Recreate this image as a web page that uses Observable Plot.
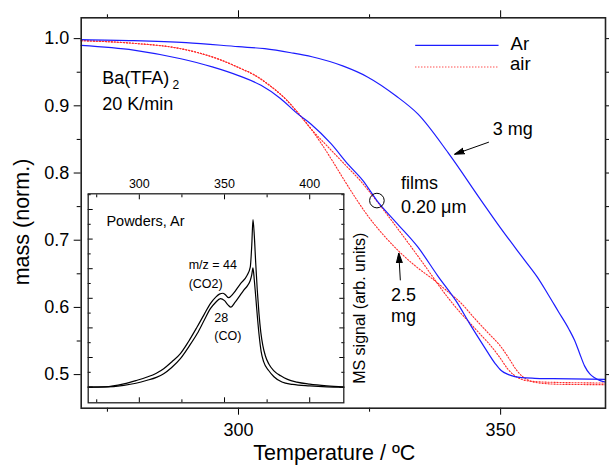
<!DOCTYPE html>
<html><head><meta charset="utf-8">
<script src="https://cdn.jsdelivr.net/npm/d3@7"></script>
<script src="https://cdn.jsdelivr.net/npm/@observablehq/plot@0.6"></script>
<style>
body{margin:0;background:#fff;}
#wrap{position:relative;width:609px;height:466px;overflow:hidden;background:#fff;}
</style></head><body><div id="wrap"></div>
<script>
// ---- Main TGA curves (temperature °C, normalized mass) ----
const tArBulk = [270, 280, 290, 300, 305, 310, 314, 320, 324.6, 330, 334.2, 340, 346.3, 350, 354.6, 357, 359, 361, 363, 364.1, 365, 366, 367, 368, 369, 370];
const mArBulk = [0.9985, 0.997, 0.994, 0.988, 0.985, 0.979, 0.973, 0.959, 0.943, 0.915, 0.888, 0.830, 0.759, 0.718, 0.670, 0.645, 0.620, 0.594, 0.568, 0.551, 0.533, 0.513, 0.501, 0.495, 0.491, 0.489];

const tArFilm = [270, 280, 289, 295, 300, 304.3, 308, 311.3, 313.8, 317.6, 321, 323.7, 326.4, 330, 334.2, 338, 341.8, 344, 346.9, 349, 350.1, 351.5, 352.7, 354, 356.5, 360, 370];
const mArFilm = [0.990, 0.983, 0.970, 0.958, 0.945, 0.9305, 0.911, 0.888, 0.873, 0.844, 0.812, 0.789, 0.759, 0.727, 0.690, 0.647, 0.606, 0.577, 0.541, 0.516, 0.506, 0.500, 0.497, 0.4955, 0.4945, 0.494, 0.493];

const tAirFilm = [270, 280, 289, 296.7, 300, 303, 306, 309, 311.3, 313.8, 316.7, 320, 323.3, 326.4, 330, 335, 340, 342, 344, 346, 348, 349.8, 351.4, 352.6, 354, 356, 360, 370];
const mAirFilm = [0.997, 0.993, 0.985, 0.968, 0.957, 0.946, 0.930, 0.910, 0.890, 0.866, 0.842, 0.815, 0.788, 0.758, 0.721, 0.668, 0.614, 0.595, 0.578, 0.561, 0.544, 0.526, 0.508, 0.499, 0.493, 0.490, 0.4885, 0.4875];

const tAirBulk = [270, 280, 289, 296.7, 300, 303, 306, 309, 311.3, 313.8, 315.7, 318, 320.2, 322.4, 324.6, 327.5, 330.4, 334, 337.4, 340, 342.5, 345, 347.5, 350.1, 351.6, 353, 354.2, 355.5, 358, 362, 370];
const mAirBulk = [0.997, 0.993, 0.985, 0.968, 0.957, 0.946, 0.930, 0.910, 0.890, 0.866, 0.845, 0.817, 0.789, 0.762, 0.737, 0.709, 0.685, 0.660, 0.640, 0.623, 0.606, 0.584, 0.563, 0.541, 0.524, 0.507, 0.497, 0.491, 0.487, 0.4855, 0.485];

// ---- Inset MS signals (temperature °C, arbitrary units) ----
const tCO2 = [270, 280, 290.9, 298, 304.6, 310, 314.3, 319, 324.1, 329, 333.9, 338, 341.7, 345, 347, 349.1, 350.5, 352.4, 355, 359.3, 363.2, 365.1, 366, 366.7, 367.5, 368.3, 369.2, 370.2, 371.3, 372.5, 374, 376, 379, 383, 387, 392.5, 400, 410, 420];
const vCO2 = [0, 0.01, 0.11, 0.22, 0.34, 0.47, 0.62, 0.85, 1.13, 1.55, 2.03, 2.45, 2.82, 3.05, 3.14, 3.17, 3.12, 3.02, 3.15, 3.49, 3.77, 4.05, 4.8, 5.66, 5.1, 4.2, 3.3, 2.5, 1.85, 1.4, 1.05, 0.78, 0.55, 0.38, 0.26, 0.17, 0.10, 0.04, 0];

const tCO = [270, 280, 290.9, 298, 304.6, 310, 314.3, 319, 324.1, 329, 333.9, 338, 341.7, 344.6, 347.6, 350, 352, 353.8, 356, 358.5, 361.2, 363.5, 365.1, 366, 366.7, 367.5, 368.4, 369.4, 370.4, 371.5, 373, 375.9, 379, 383.7, 390, 400, 410, 420];
const vCO = [0, 0.005, 0.06, 0.13, 0.23, 0.33, 0.45, 0.66, 0.96, 1.36, 1.80, 2.25, 2.65, 2.85, 2.99, 2.92, 2.78, 2.70, 2.85, 3.05, 3.27, 3.43, 3.60, 3.80, 4.03, 3.6, 3.0, 2.3, 1.7, 1.2, 0.85, 0.56, 0.35, 0.17, 0.09, 0.04, 0.01, 0];

// ---- Tick values ----
const xMajor = [300, 350];
const xMinor = [275, 325];
const yMajor = [0.5, 0.6, 0.7, 0.8, 0.9, 1.0];
const yMinor = [0.55, 0.65, 0.75, 0.85, 0.95];
const insetXMajor = [300, 350, 400];
const insetXMinor = [275, 325, 375];
const insetYMajor = [0, 1, 2, 3, 4, 5, 6];
const insetYMinor = [0.5, 1.5, 2.5, 3.5, 4.5, 5.5, 6.5];

// ---- Annotations (in data coordinates) ----
const notes = [
  {T: 274.0, m: 0.933, text: "Ba(TFA)", size: 18},
  {T: 274.0, m: 0.8933, text: "20 K/min", size: 18},
  {T: 348.5, m: 0.856, text: "3 mg", size: 18},
  {T: 331.0, m: 0.7757, text: "films", size: 18},
  {T: 331.0, m: 0.740, text: "0.20 μm", size: 18},
  {T: 329.1, m: 0.6095, text: "2.5", size: 18},
  {T: 329.1, m: 0.578, text: "mg", size: 18},
  {T: 351.9, m: 0.9836, text: "Ar", size: 18.5},
  {T: 351.8, m: 0.9528, text: "air", size: 18.5}
];
const subNotes = [{T: 287.4, m: 0.9246, text: "2", size: 12}];
const legendAr = [{T1: 333.7, T2: 349.6, m: 0.990}];
const legendAir = [{T1: 333.7, T2: 349.6, m: 0.9577}];
const arrows = [
  {T1: 347.76, m1: 0.846, T2: 341.19, m2: 0.8278},
  {T1: 330.87, m1: 0.6403, T2: 330.57, m2: 0.681}
];
const circleMark = [{T: 326.4, m: 0.759}];
const insetNotes = [
  {T: 280.7, v: 5.44, text: "Powders, Ar", size: 14.5},
  {T: 328.97, v: 3.98, text: "m/z = 44", size: 12.5},
  {T: 328.97, v: 3.36, text: "(CO2)", size: 12.5},
  {T: 344.0, v: 2.20, text: "28", size: 12.5},
  {T: 344.0, v: 1.60, text: "(CO)", size: 12.5}
];

// ---- Tables ----
const series = [
  {id: "Ar 3 mg", atm: "Ar", T: tArBulk, m: mArBulk},
  {id: "Ar film", atm: "Ar", T: tArFilm, m: mArFilm},
  {id: "air film", atm: "air", T: tAirFilm, m: mAirFilm},
  {id: "air 2.5 mg", atm: "air", T: tAirBulk, m: mAirBulk}
];
const rows = series.flatMap(s => s.T.map((t, i) => ({id: s.id, atm: s.atm, T: t, m: s.m[i]})));
const ms = [
  {id: "44", T: tCO2, v: vCO2},
  {id: "28", T: tCO, v: vCO}
];
const msRows = ms.flatMap(s => s.T.map((t, i) => ({id: s.id, T: t, v: s.v[i]})));

const FONT = "'Liberation Sans', Arial, Helvetica, sans-serif";
const BLUE = "#1c1cff";
const RED = "#ff2a2a";
const DASH = "1.2,1.8";

function filledArrow(color) {
  const m = d3.create("svg:marker")
    .attr("viewBox", "0 -5 10 10")
    .attr("refX", 10).attr("refY", 0)
    .attr("markerWidth", 10).attr("markerHeight", 10)
    .attr("markerUnits", "userSpaceOnUse")
    .attr("orient", "auto");
  m.append("path").attr("d", "M0,-3L10,0L0,3Z").attr("fill", color);
  return m.node();
}

const main = Plot.plot({
  width: 609, height: 466,
  marginLeft: 80.7, marginRight: 4, marginTop: 17.3, marginBottom: 58.3,
  style: {fontFamily: FONT, background: "white", color: "black"},
  x: {domain: [270, 370]},
  y: {domain: [0.45, 1.031]},
  marks: [
    Plot.axisX(xMajor, {anchor: "bottom", tickSize: 7, tickPadding: 8, fontSize: 18, label: null}),
    Plot.axisX(xMinor, {anchor: "bottom", tickSize: 4, fill: "none", label: null}),
    Plot.axisX(xMajor, {anchor: "top", tickSize: 8, fill: "none", label: null}),
    Plot.axisX(xMinor, {anchor: "top", tickSize: 4, fill: "none", label: null}),
    Plot.axisY(yMajor, {anchor: "left", tickSize: 7, tickPadding: 5, fontSize: 18, tickFormat: d3.format(".1f"), label: null}),
    Plot.axisY(yMinor, {anchor: "left", tickSize: 4, fill: "none", label: null}),
    Plot.axisY(yMajor, {anchor: "right", tickSize: 7, fill: "none", label: null}),
    Plot.axisY(yMinor, {anchor: "right", tickSize: 4, fill: "none", label: null}),
    Plot.line(rows.filter(d => d.atm === "air"), {x: "T", y: "m", z: "id", stroke: RED, strokeWidth: 1.1, strokeDasharray: DASH, curve: "monotone-x"}),
    Plot.line(rows.filter(d => d.atm === "Ar"), {x: "T", y: "m", z: "id", stroke: BLUE, strokeWidth: 1.2, curve: "monotone-x"}),
    Plot.link(legendAr, {x1: "T1", x2: "T2", y1: "m", y2: "m", stroke: BLUE, strokeWidth: 1.2}),
    Plot.link(legendAir, {x1: "T1", x2: "T2", y1: "m", y2: "m", stroke: RED, strokeWidth: 1.1, strokeDasharray: DASH}),
    Plot.link(arrows, {x1: "T1", y1: "m1", x2: "T2", y2: "m2", stroke: "black", strokeWidth: 1, markerEnd: filledArrow}),
    Plot.dot(circleMark, {x: "T", y: "m", r: 7.3, stroke: "black", fill: "none", strokeWidth: 1}),
    Plot.text(notes, {x: "T", y: "m", text: "text", fontSize: "size", textAnchor: "start", lineAnchor: "bottom", fill: "black"}),
    Plot.text(subNotes, {x: "T", y: "m", text: "text", fontSize: "size", textAnchor: "start", lineAnchor: "bottom", fill: "black"}),
    Plot.text(["Temperature / ºC"], {frameAnchor: "bottom", textAnchor: "middle", dy: 52, dx: -9, fontSize: 21.5, lineAnchor: "bottom", fill: "black"}),
    Plot.text(["mass (norm.)"], {frameAnchor: "left", textAnchor: "middle", rotate: -90, dx: -52, dy: 9, fontSize: 21.5, lineAnchor: "bottom", fill: "black"}),
    Plot.frame({stroke: "#222", strokeWidth: 1.6})
  ]
});

const inset = Plot.plot({
  width: 295.3, height: 236.3,
  marginLeft: 7.7, marginTop: 23.3, marginRight: 32, marginBottom: 4,
  style: {position: "absolute", left: "80px", top: "170px", background: "transparent", fontFamily: FONT, color: "black", overflow: "visible"},
  x: {domain: [270, 420]},
  y: {domain: [-0.53, 6.53]},
  marks: [
    Plot.frame({fill: "white", stroke: "none"}),
    Plot.axisX(insetXMajor, {anchor: "top", tickSize: 0, tickPadding: 6, fontSize: 12.5, label: null}),
    Plot.axisX(insetXMajor, {anchor: "top", tickSize: -5, fill: "none", label: null}),
    Plot.axisX(insetXMinor, {anchor: "top", tickSize: -3, fill: "none", label: null}),
    Plot.axisX(insetXMajor, {anchor: "bottom", tickSize: -5, fill: "none", label: null}),
    Plot.axisX(insetXMinor, {anchor: "bottom", tickSize: -3, fill: "none", label: null}),
    Plot.axisY(insetYMajor, {anchor: "left", tickSize: -5, fill: "none", label: null}),
    Plot.axisY(insetYMinor, {anchor: "left", tickSize: -3, fill: "none", label: null}),
    Plot.axisY(insetYMajor, {anchor: "right", tickSize: -5, fill: "none", label: null}),
    Plot.axisY(insetYMinor, {anchor: "right", tickSize: -3, fill: "none", label: null}),
    Plot.line(msRows, {x: "T", y: "v", z: "id", stroke: "black", strokeWidth: 1.2, curve: "monotone-x"}),
    Plot.text(insetNotes, {x: "T", y: "v", text: "text", fontSize: "size", textAnchor: "start", lineAnchor: "bottom", fill: "black"}),
    Plot.text(["MS signal (arb. units)"], {frameAnchor: "right", textAnchor: "middle", rotate: -90, dx: 21.7, dy: 10, fontSize: 16, lineAnchor: "bottom", fill: "black"}),
    Plot.frame({stroke: "#222", strokeWidth: 1.3})
  ]
});

const wrap = document.getElementById("wrap");
wrap.appendChild(main);
wrap.appendChild(inset);
</script></body></html>
